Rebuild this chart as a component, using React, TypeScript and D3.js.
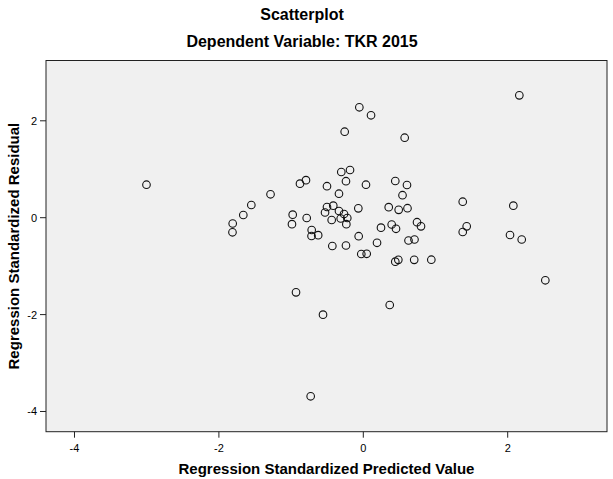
import React, { useEffect, useRef } from "react";
import * as d3 from "d3";

const predicted = [
  -3.003, -1.809, -1.812, -1.662, -1.551, -1.285, -0.978, -0.988, -0.932, -0.877,
  -0.794, -0.784, -0.715, -0.717, -0.625, -0.729, -0.558, -0.530, -0.503, -0.503,
  -0.429, -0.438, -0.416, -0.337, -0.337, -0.313, -0.305, -0.267, -0.258, -0.240,
  -0.235, -0.240, -0.222, -0.184, -0.069, -0.064, -0.055, -0.028, 0.047, 0.037,
  0.107, 0.190, 0.245, 0.352, 0.366, 0.393, 0.443, 0.443, 0.453, 0.485,
  0.490, 0.543, 0.573, 0.605, 0.612, 0.626, 0.709, 0.705, 0.744, 0.799,
  0.942, 1.377, 1.432, 1.377, 2.032, 2.078, 2.161, 2.194, 2.521,
];
const residual = [
  0.681, -0.120, -0.301, 0.056, 0.262, 0.483, 0.062, -0.134, -1.540, 0.702,
  0.774, -0.006, -0.254, -0.378, -0.361, -3.686, -2.002, 0.107, 0.221, 0.650,
  -0.584, -0.047, 0.248, 0.495, 0.138, -0.017, 0.943, 0.076, 1.775, 0.753,
  -0.134, -0.574, -0.006, 0.985, 0.194, -0.382, 2.279, -0.749, -0.745, 0.681,
  2.114, -0.518, -0.206, 0.217, -1.802, -0.140, 0.757, -0.908, -0.229, -0.869,
  0.163, 0.464, 1.651, 0.675, 0.196, -0.471, -0.450, -0.869, -0.093, -0.178,
  -0.867, 0.330, -0.178, -0.295, -0.357, 0.248, 2.526, -0.450, -1.292,
];
const xTicks = [-4, -2, 0, 2];
const yTicks = [2, 0, -2, -4];
const titleText = "Scatterplot";
const subtitleText = "Dependent Variable: TKR 2015";
const xLabel = "Regression Standardized Predicted Value";
const yLabel = "Regression Standardized Residual";

const W = 613;
const H = 479;
const FONT = "'Liberation Sans', Arial, sans-serif";

export default function App() {
  const ref = useRef<SVGSVGElement>(null);

  useEffect(() => {
    const svg = d3.select(ref.current);
    svg.selectAll("*").remove();

    const left = 46, right = 607, top = 60.5, bottom = 431.7;
    const x = d3.scaleLinear().domain([-4.3947, 3.3753]).range([left, right]);
    const y = d3.scaleLinear().domain([-4.417, 3.2446]).range([bottom, top]);

    svg.append("rect").attr("x", 0).attr("y", 0).attr("width", W).attr("height", H).attr("fill", "#ffffff");

    svg.append("rect")
      .attr("x", left).attr("y", top)
      .attr("width", right - left).attr("height", bottom - top)
      .attr("fill", "#f0f0f0")
      .attr("stroke", "#222")
      .attr("stroke-width", 1);

    // x ticks
    const gx = svg.append("g");
    xTicks.forEach((t) => {
      gx.append("line")
        .attr("x1", x(t)).attr("x2", x(t))
        .attr("y1", bottom).attr("y2", bottom + 6)
        .attr("stroke", "#222");
      gx.append("text")
        .attr("x", x(t)).attr("y", bottom + 20)
        .attr("text-anchor", "middle")
        .attr("font-family", FONT).attr("font-size", 11)
        .attr("fill", "#000")
        .text(String(t));
    });

    // y ticks
    const gy = svg.append("g");
    yTicks.forEach((t) => {
      gy.append("line")
        .attr("x1", left - 6).attr("x2", left)
        .attr("y1", y(t)).attr("y2", y(t))
        .attr("stroke", "#222");
      gy.append("text")
        .attr("x", left - 9).attr("y", y(t) + 4)
        .attr("text-anchor", "end")
        .attr("font-family", FONT).attr("font-size", 11)
        .attr("fill", "#000")
        .text(String(t));
    });

    // points
    svg.append("g")
      .selectAll("circle")
      .data(predicted.map((p, i) => [p, residual[i]]))
      .join("circle")
      .attr("cx", (d) => x(d[0]))
      .attr("cy", (d) => y(d[1]))
      .attr("r", 3.8)
      .attr("fill", "none")
      .attr("stroke", "#111")
      .attr("stroke-width", 1.1);

    // titles
    svg.append("text")
      .attr("x", 302).attr("y", 20)
      .attr("text-anchor", "middle")
      .attr("font-family", FONT).attr("font-size", 16).attr("font-weight", "bold")
      .text(titleText);
    svg.append("text")
      .attr("x", 302).attr("y", 47)
      .attr("text-anchor", "middle")
      .attr("font-family", FONT).attr("font-size", 16).attr("font-weight", "bold")
      .text(subtitleText);

    svg.append("text")
      .attr("x", (left + right) / 2).attr("y", 474)
      .attr("text-anchor", "middle")
      .attr("font-family", FONT).attr("font-size", 15).attr("font-weight", "bold")
      .text(xLabel);

    svg.append("text")
      .attr("transform", `translate(19, ${(top + bottom) / 2}) rotate(-90)`)
      .attr("text-anchor", "middle")
      .attr("font-family", FONT).attr("font-size", 15).attr("font-weight", "bold")
      .text(yLabel);
  }, []);

  return (
    <svg
      ref={ref}
      width={W}
      height={H}
      style={{ position: "absolute", left: 0, top: 0, display: "block" }}
    />
  );
}
